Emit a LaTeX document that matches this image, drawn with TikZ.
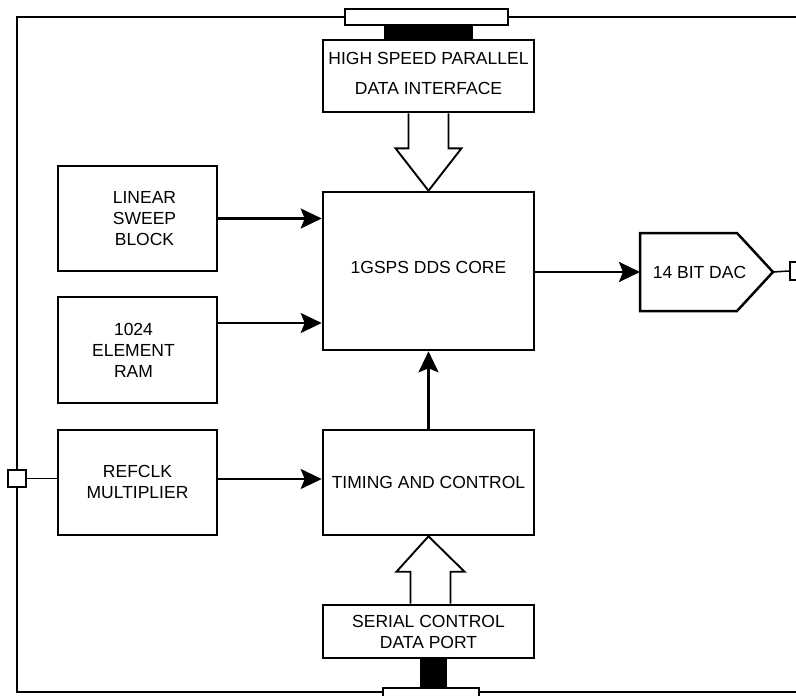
\documentclass[tikz,border=0pt]{standalone}
\usepackage{fontspec}
\setmainfont{Liberation Sans}
\usetikzlibrary{arrows.meta,calc}
\begin{document}
\begin{tikzpicture}[x=1pt,y=-1pt,
  txt/.style={font=\fontsize{17.5}{21}\selectfont, align=center, inner sep=0pt},
  box/.style={draw, line width=2.6pt, inner sep=0pt, txt, fill=white},
  conn/.style={line width=2.5pt, -{Stealth[length=21pt,width=20pt,inset=4pt]}},
  thin/.style={line width=1.5pt},
  hollow/.style={draw, line width=1.9pt, fill=white, line join=miter},
  pin/.style={draw, line width=1.8pt, fill=white, inner sep=0pt},
  frame/.style={line width=2.6pt}
]
\useasboundingbox (0,0) rectangle (796,696);

% outer frame
\draw[frame] (796,17) -- (17,17) -- (17,692) -- (796,692);

% pins on the frame
\node[pin, minimum width=163pt, minimum height=16pt] (tpin) at (426.5,17) {};
\node[pin, minimum width=96pt, minimum height=20pt] (bpin) at (431,698) {};
\node[pin, minimum width=18pt, minimum height=17pt] (lpin) at (17,478.5) {};
\node[pin, minimum width=18pt, minimum height=18pt] (rpin) at (799,271) {};

% blocks
\node[box, minimum width=211pt, minimum height=72pt,
  label={[txt, yshift=3pt]center:HIGH SPEED PARALLEL\\[9pt]DATA INTERFACE}] (hspdi) at (428.5,76) {};
\node[box, minimum width=211pt, minimum height=158pt,
  label={[txt, yshift=4pt]center:1GSPS DDS CORE}] (dds) at (428.5,271) {};
\node[box, minimum width=159pt, minimum height=105pt,
  label={[txt, xshift=7pt]center:LINEAR\\SWEEP\\BLOCK}] (lsb) at (137.5,218.5) {};
\node[box, minimum width=159pt, minimum height=106pt,
  label={[txt, xshift=-4pt]center:1024\\ELEMENT\\RAM}] (ram) at (137.5,350) {};
\node[box, minimum width=159pt, minimum height=105pt,
  label={[txt, yshift=1pt]center:REFCLK\\MULTIPLIER}] (ref) at (137.5,482.5) {};
\node[box, minimum width=211pt, minimum height=105pt] (tc) at (428.5,482.5) {TIMING AND CONTROL};
\node[box, minimum width=211pt, minimum height=53pt] (scp) at (428.5,631.5) {SERIAL CONTROL\\DATA PORT};

% DAC
\node[minimum width=133pt, minimum height=78pt, inner sep=0pt, outer sep=0pt,
  label={[txt, xshift=-7pt]center:14 BIT DAC}] (dac) at (706.5,272) {};
\draw[line width=2.5pt, line join=miter] (dac.north west) -- ([xshift=-36pt]dac.north east) -- (dac.east)
  -- ([xshift=-36pt]dac.south east) -- (dac.south west) -- cycle;

% black bus bars
\fill ([xshift=-45pt]hspdi.north) rectangle ([xshift=46.5pt]tpin.south);
\fill ([xshift=-8.5pt]scp.south) rectangle ([xshift=16pt]bpin.north);

% connectors
\draw[conn] (lsb.east) -- (lsb.east -| dds.west);
\draw[conn] ([yshift=27pt]ram.east) coordinate (r1) -- (r1 -| dds.west);
\draw[conn] ([yshift=3.5pt]ref.east) coordinate (r2) -- (r2 -| tc.west);
\draw[conn] (tc.north) -- (dds.south);
\draw[conn] ([yshift=-1pt]dds.east) coordinate (r3) -- (r3 -| dac.west);
\draw[thin] (lpin.east) -- (lpin.east -| ref.west);
\draw[thin] (dac.east) -- (rpin.west);

% hollow bus arrows
\coordinate (ha) at (hspdi.south);
\coordinate (hb) at (dds.north);
\draw[hollow] ($(ha)+(-20,0)$) -- ($(ha)+(-20,35)$) -- ($(ha)+(-33,35)$) -- (hb)
  -- ($(ha)+(33,35)$) -- ($(ha)+(20,35)$) -- ($(ha)+(20,0)$);
\coordinate (sa) at (scp.north);
\coordinate (sb) at (tc.south);
\draw[hollow] ($(sa)+(-18,0)$) -- ($(sa)+(-18,-32)$) -- ($(sa)+(-32,-32)$) -- (sb)
  -- ($(sa)+(36,-32)$) -- ($(sa)+(22,-32)$) -- ($(sa)+(22,0)$);
\end{tikzpicture}
\end{document}
